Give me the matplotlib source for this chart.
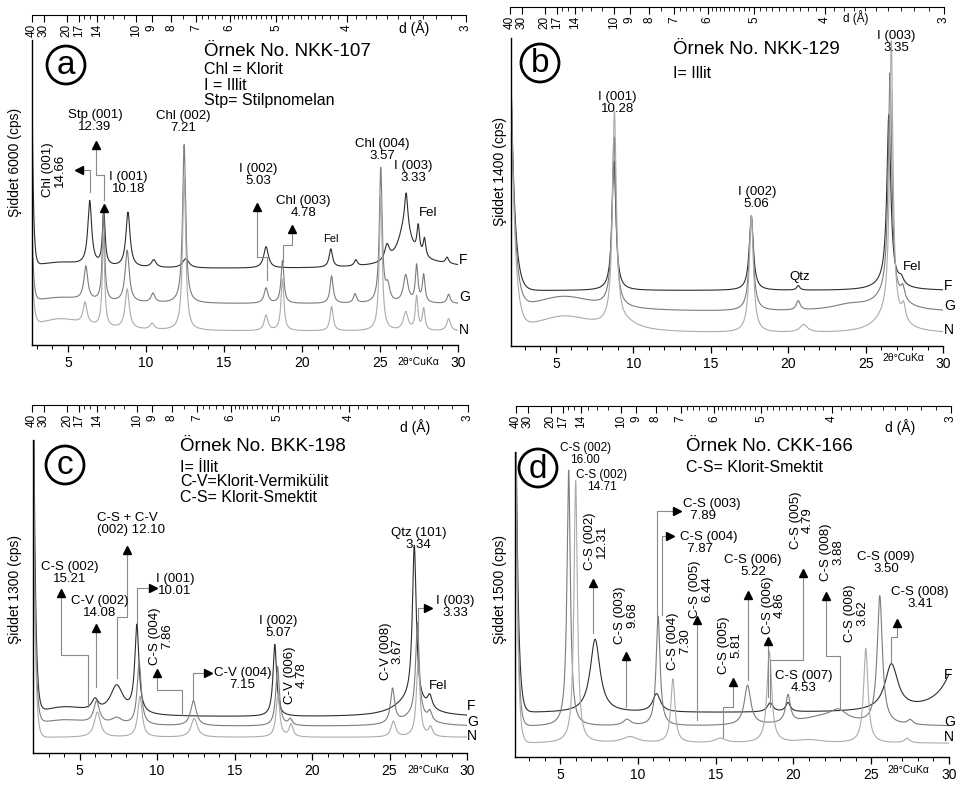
import numpy as np
import matplotlib.pyplot as plt
from matplotlib.patches import Ellipse

plt.rcParams['font.family'] = ['Liberation Sans', 'DejaVu Sans']

W, H = 956, 789
LAMBDA = 1.5406  # CuKa, used only to place the d(A) scale

# ---------------- data ----------------
# each trace: flat background, low-angle rise (amplitude, decay), peaks (2theta, height, half width)
samples = ['F', 'G', 'N']
colors = ['#2e2e2e', '#7c7c7c', '#ababab']

# (a) NKK-107
a_base = [25.0, 13.5, 4.5]
a_rise = [(60, 0.09), (25, 0.1), (22, 0.12)]
a_F_peaks = [(4.5, 2, 2.0), (6.40, 21, 0.15), (7.30, 18, 0.1), (8.85, 18, 0.16), (10.5, 2.5, 0.18),
             (12.55, 3, 0.25), (17.70, 7, 0.18), (21.85, 6, 0.13), (23.45, 2, 0.12), (25.45, 5, 0.18),
             (26.6, 12, 0.5), (26.68, 11, 0.12), (27.45, 9, 0.1), (27.85, 6, 0.1), (29.3, 2, 0.12),
             (27.5, 2, 2.5)]
a_G_peaks = [(4.5, 2, 2.0), (6.15, 11, 0.15), (7.28, 30, 0.09), (8.8, 17, 0.16), (10.45, 3, 0.15),
             (12.45, 52, 0.12), (17.7, 5, 0.15), (18.75, 14, 0.11), (21.9, 9, 0.12), (23.4, 3, 0.12),
             (25.05, 44, 0.11), (25.5, 5, 0.15), (26.65, 9, 0.18), (27.35, 12, 0.1), (27.8, 9, 0.1),
             (29.4, 3, 0.12)]
a_N_peaks = [(4.5, 4, 2.0), (6.1, 7, 0.15), (7.28, 30, 0.09), (8.8, 13, 0.16), (10.4, 2, 0.15),
             (12.45, 50, 0.12), (17.7, 5, 0.15), (18.75, 17, 0.11), (21.9, 8, 0.12), (25.05, 44, 0.11),
             (26.65, 6, 0.18), (27.35, 11, 0.1), (27.8, 7, 0.1), (29.4, 4, 0.15)]

# (b) NKK-129
b_base = [18.0, 11.0, 4.0]
b_rise = [(70, 0.25), (76, 0.25), (83, 0.25)]
b_F_peaks = [(8.75, 42, 0.15), (17.62, 24, 0.16), (20.65, 1.5, 0.12), (26.5, 54, 0.15),
             (26.5, 3, 0.8), (27.3, 2, 0.18)]
b_G_peaks = [(5.5, 5, 2.5), (8.75, 55, 0.15), (17.62, 31, 0.16), (20.65, 3, 0.15), (24.0, 2, 1.5),
             (26.58, 72, 0.14), (26.5, 5, 1.0), (27.4, 4, 0.15)]
b_N_peaks = [(5.5, 5.5, 2.5), (8.78, 69, 0.15), (9.5, 2, 1.0), (17.62, 38, 0.16), (21.0, 2.5, 0.3),
             (26.66, 89, 0.13), (26.5, 6, 1.0), (27.45, 5, 0.15)]

# (c) BKK-198
c_base = [11.5, 8.5, 5.0]
c_rise = [(150, 0.12), (120, 0.12), (110, 0.12)]
c_F_peaks = [(4.0, 3, 2.0), (6.0, 3.5, 0.25), (7.4, 9, 0.5), (8.7, 28, 0.16), (17.6, 23, 0.14),
             (26.6, 50, 0.15), (26.3, 5, 1.2), (27.6, 4, 0.18)]
c_G_peaks = [(4.0, 2, 2.0), (6.1, 7, 0.22), (7.4, 2, 0.4), (8.85, 20, 0.16), (12.35, 8, 0.22),
             (17.78, 19, 0.14), (18.6, 2, 0.15), (25.2, 11, 0.16), (26.8, 30, 0.14),
             (26.6, 3, 1.0), (27.6, 3, 0.15)]
c_N_peaks = [(6.15, 8, 0.24), (8.9, 13, 0.17), (12.4, 6, 0.24), (17.8, 14, 0.14), (18.65, 4, 0.15),
             (25.25, 5, 0.18), (26.85, 24, 0.14), (27.65, 3, 0.15)]

# (d) CKK-166
d_base = [14.5, 10.0, 4.5]
d_rise = [(150, 0.15), (150, 0.13), (150, 0.13)]
d_F_peaks = [(7.25, 24, 0.38), (11.2, 6, 0.3), (18.5, 3, 0.22), (19.65, 3, 0.18), (26.3, 15, 0.5),
             (31.0, 25, 1.0)]
d_G_peaks = [(5.55, 84, 0.13), (9.3, 2, 0.3), (11.3, 36, 0.15), (17.05, 13, 0.25), (19.65, 9, 0.18),
             (22.0, 3, 2.0), (22.9, 3, 0.6), (25.55, 42, 0.2), (27.5, 1.5, 0.2)]
d_N_peaks = [(6.0, 86, 0.13), (9.5, 2, 0.6), (12.25, 21, 0.16), (15.3, 1.5, 0.4), (18.45, 30, 0.18),
             (21.0, 1, 1.0), (24.65, 31, 0.17), (27.3, 1.5, 0.2)]

# top scale, d in Angstrom
d_major = [40, 30, 20, 17, 14, 10, 9, 8, 7, 6, 5, 4, 3]
d_minor = ([16, 15, 13, 12, 11, 7.5, 6.8, 6.6, 6.4, 6.2]
           + [5.9, 5.8, 5.7, 5.6, 5.5, 5.4, 5.3, 5.2, 5.1]
           + [4.9, 4.8, 4.7, 4.6, 4.5, 4.4, 4.3, 4.2, 4.1]
           + [3.9, 3.8, 3.7, 3.6, 3.5, 3.4, 3.3, 3.2, 3.1])

# ---------------- helpers ----------------
def two_theta(d):
    return 2 * np.degrees(np.arcsin(LAMBDA / (2 * np.asarray(d, dtype=float))))


def box(x0, y0, x1, y1):
    return [x0 / W, 1 - y1 / H, (x1 - x0) / W, (y1 - y0) / H]


def ftext(px, py, s, **kw):
    fig.text(px / W, 1 - py / H, s, **kw)


def pattern(tt, base, rise, peaks):
    y = np.full_like(tt, base)
    y += rise[0] * np.exp(-(tt - tt[0]) / rise[1])
    for pos, h, w in peaks:
        y += h / (1 + ((tt - pos) / w) ** 2)
    return y


def d_axis(x0, x1, py):
    ax = fig.add_axes(box(x0, py - 1, x1, py))
    ax.set_xlim(two_theta(40), two_theta(3))
    for s in ['top', 'left', 'right']:
        ax.spines[s].set_visible(False)
    ax.spines['bottom'].set_linewidth(0.8)
    ax.set_yticks([])
    ax.set_xticks(two_theta(d_major))
    ax.set_xticklabels([str(v) for v in d_major], rotation=90, fontsize=8.5)
    ax.set_xticks(two_theta(d_minor), minor=True)
    ax.tick_params(axis='x', which='major', length=5, width=0.8, pad=1.5)
    ax.tick_params(axis='x', which='minor', length=3, width=0.6)
    ax.patch.set_visible(False)
    return ax


def main_axes(x0, y0, x1, y1, xmin, base, rise, peaks):
    ax = fig.add_axes(box(x0, y0, x1, y1))
    ax.set_xlim(xmin, 30)
    ax.set_ylim(0, 100)
    ax.spines['top'].set_visible(False)
    ax.spines['right'].set_visible(False)
    ax.spines['left'].set_linewidth(1.0)
    ax.spines['bottom'].set_linewidth(1.0)
    ax.set_yticks([])
    ax.set_xticks(range(5, 31, 5))
    ax.set_xticks(range(3, 30), minor=True)
    ax.tick_params(axis='x', which='major', length=5, width=0.9, labelsize=10, pad=3)
    ax.tick_params(axis='x', which='minor', length=3, width=0.7)
    ax.patch.set_visible(False)
    tt = np.linspace(xmin, 30, 4000)
    for b, r, p, c in zip(base, rise, peaks, colors):
        ax.plot(tt, pattern(tt, b, r, p), color=c, lw=0.8)
    return ax


def label(ax, x, y, s, rot=0, size=9.5, ha='center'):
    ax.text(x, y, s, rotation=rot, ha=ha, va='center', fontsize=size,
            linespacing=1.0, multialignment='center' if ha == 'center' else 'left')


def leader(ax, xs, ys, head):
    ax.plot(xs, ys, color='#8a8a8a', lw=0.8, clip_on=False)
    ax.plot(xs[-1], ys[-1], marker=head, color='black', ms=5.5, clip_on=False, lw=0)


def panel_frame(letter, cx, cy, title, subs, tx, ty, ylab, ylx, yly, dpx, dpy, dsize,
                cux, cuy, fgn):
    fig.add_artist(Ellipse((cx / W, 1 - cy / H), 38 / W, 38 / H, fill=False, lw=2, ec='black'))
    ftext(cx, cy + 1, letter, ha='center', va='center', fontsize=24)
    ftext(tx, ty, title, ha='left', va='center', fontsize=13.5)
    for s, sy in subs:
        ftext(tx, sy, s, ha='left', va='center', fontsize=11.5)
    ftext(ylx, yly, ylab, ha='center', va='center', rotation=90, fontsize=10)
    ftext(dpx, dpy, 'd (Å)', ha='center', va='center', fontsize=dsize)
    ftext(cux, cuy, '2θ°CuKα', ha='center', va='center', fontsize=7.5)
    for s, (fx, fy) in zip(samples, fgn):
        ftext(fx, fy, s, ha='left', va='center', fontsize=10)


fig = plt.figure(figsize=(W / 100, H / 100), dpi=100)

# ---------------- (a) ----------------
d_axis(32, 466, 15)
ax = main_axes(32, 40, 458, 345, 2.7, a_base, a_rise, [a_F_peaks, a_G_peaks, a_N_peaks])
label(ax, 6.74, 73.4, 'Stp (001)\n12.39')
label(ax, 4.11, 57.4, 'Chl (001)\n14.66', rot=90)
label(ax, 8.87, 53.0, 'I (001)\n10.18')
label(ax, 12.37, 73.0, 'Chl (002)\n7.21')
label(ax, 17.2, 55.7, 'I (002)\n5.03')
label(ax, 20.09, 45.2, 'Chl (003)\n4.78')
label(ax, 21.86, 34.6, 'Fel', size=8)
label(ax, 25.17, 64.0, 'Chl (004)\n3.57')
label(ax, 27.13, 56.6, 'I (003)\n3.33')
label(ax, 28.06, 43.2, 'Fel')
leader(ax, [6.42, 6.42, 5.70], [50.2, 57.4, 57.4], '<')
leader(ax, [7.31, 7.31, 6.80, 6.80], [47.5, 55.7, 55.7, 65.6], '^')
ax.plot(7.31, 44.8, marker='^', color='black', ms=5.5, clip_on=False)
leader(ax, [17.74, 17.74, 17.14, 17.14], [21.3, 28.9, 28.9, 45.2], '^')
leader(ax, [18.80, 18.80, 19.38, 19.38], [27.2, 32.8, 32.8, 38.0], '^')
panel_frame('a', 66, 65, 'Örnek No. NKK-107',
            [('Chl = Klorit', 69), ('I = Illit', 85), ('Stp= Stilpnomelan', 100)], 204, 52,
            'Şiddet 6000 (cps)', 15, 162, 414, 28, 10, 418, 362,
            [(459, 260), (459, 297), (459, 330)])

# ---------------- (b) ----------------
d_axis(510, 944, 7)
ax = main_axes(511, 38, 943, 346, 2.1, b_base, b_rise, [b_F_peaks, b_G_peaks, b_N_peaks])
label(ax, 8.97, 79.0, 'I (001)\n10.28')
label(ax, 17.97, 48.2, 'I (002)\n5.06')
label(ax, 26.98, 98.8, 'I (003)\n3.35')
label(ax, 20.74, 22.5, 'Qtz')
label(ax, 28.0, 25.7, 'Fel')
panel_frame('b', 540, 63, 'Örnek No. NKK-129', [('I= Illit', 74)], 673, 50,
            'Şiddet 1400 (cps)', 500, 171, 856, 18, 8.5, 903, 358,
            [(944, 286), (944, 306), (944, 330)])

# ---------------- (c) ----------------
d_axis(32, 468, 405)
ax = main_axes(33, 440, 467, 753, 2.0, c_base, c_rise, [c_F_peaks, c_G_peaks, c_N_peaks])
label(ax, 6.1, 73.2, 'C-S + C-V\n(002) 12.10', ha='left')
label(ax, 4.34, 57.5, 'C-S (002)\n15.21')
label(ax, 6.32, 46.6, 'C-V (002)\n14.08')
label(ax, 11.16, 53.7, 'I (001)\n10.01')
label(ax, 10.26, 37.4, 'C-S (004)\n7.86', rot=90)
label(ax, 15.5, 23.6, 'C-V (004)\n7.15')
label(ax, 17.83, 40.3, 'I (002)\n5.07')
label(ax, 18.97, 25.0, 'C-V (006)\n4.78', rot=90)
label(ax, 25.13, 32.6, 'C-V (008)\n3.67', rot=90)
label(ax, 26.86, 68.4, 'Qtz (101)\n3.34')
label(ax, 29.23, 46.6, 'I (003)\n3.33')
label(ax, 28.15, 21.5, 'Fel')
leader(ax, [7.40, 7.40, 8.05, 8.05], [24.0, 43.5, 43.5, 65.0], '^')
leader(ax, [5.57, 5.57, 3.79, 3.79], [14.8, 31.3, 31.3, 51.0], '^')
leader(ax, [6.06, 6.06], [21.2, 40.0], '^')
leader(ax, [8.73, 8.73, 9.76], [41.4, 52.6, 52.6], '>')
leader(ax, [11.59, 11.59, 9.98, 9.98], [12.1, 20.1, 20.1, 25.5], '^')
leader(ax, [12.34, 12.34, 13.3], [16.9, 25.5, 25.5], '>')
leader(ax, [26.86, 26.86, 27.49], [27.8, 46.3, 46.3], '>')
panel_frame('c', 65, 465, 'Örnek No. BKK-198',
            [('I= İllit', 467), ('C-V=Klorit-Vermikülit', 482), ('C-S= Klorit-Smektit', 498)],
            180, 447, 'Şiddet 1300 (cps)', 15, 590, 415, 427, 10, 428, 770,
            [(467, 706), (467, 722), (467, 736)])

# ---------------- (d) ----------------
d_axis(516, 951, 406)
ax = main_axes(515, 452, 949, 757, 2.1, d_base, d_rise, [d_F_peaks, d_G_peaks, d_N_peaks])
label(ax, 6.62, 99.3, 'C-S (002)\n16.00', size=8.5)
label(ax, 7.69, 90.5, 'C-S (002)\n14.71', size=8.5)
label(ax, 7.32, 70.8, 'C-S (002)\n12.31', rot=90)
label(ax, 9.25, 46.6, 'C-S (003)\n9.68', rot=90)
label(ax, 12.92, 81.0, 'C-S (003)\n  7.89', ha='left')
label(ax, 12.73, 70.2, 'C-S (004)\n  7.87', ha='left')
label(ax, 12.66, 38.0, 'C-S (004)\n7.30', rot=90)
label(ax, 14.07, 55.0, 'C-S (005)\n6.44', rot=90)
label(ax, 15.93, 36.7, 'C-S (005)\n5.81', rot=90)
label(ax, 17.39, 62.6, 'C-S (006)\n5.22')
label(ax, 18.76, 49.8, 'C-S (006)\n4.86', rot=90)
label(ax, 20.54, 77.7, 'C-S (005)\n4.79', rot=90)
label(ax, 22.48, 67.2, 'C-S (008)\n3.88', rot=90)
label(ax, 20.64, 24.7, 'C-S (007)\n4.53')
label(ax, 24.02, 47.2, 'C-S (008)\n3.62', rot=90)
label(ax, 25.95, 63.6, 'C-S (009)\n3.50')
label(ax, 28.14, 52.1, 'C-S (008)\n3.41')
leader(ax, [7.11, 7.11], [40.6, 57.0], '^')
leader(ax, [9.25, 9.25], [16.5, 33.0], '^')
leader(ax, [11.22, 11.22, 12.5], [44.9, 80.8, 80.8], '>')
leader(ax, [11.54, 11.54, 12.08], [46.6, 72.6, 72.6], '>')
leader(ax, [13.83, 13.83], [12.1, 45.0], '^')
leader(ax, [15.44, 15.44, 16.14, 16.14], [6.7, 16.5, 16.5, 24.5], '^')
leader(ax, [17.11, 17.11], [25.2, 53.2], '^')
leader(ax, [18.39, 18.39], [19.8, 38.0], '^')
leader(ax, [18.5, 18.5, 20.64, 20.64], [16.5, 31.8, 31.8, 60.3], '^')
leader(ax, [23.0, 23.0, 22.1, 22.1], [15.4, 33.1, 33.1, 52.7], '^')
leader(ax, [26.25, 26.25, 26.68, 26.68], [31.3, 39.5, 39.5, 43.9], '^')
panel_frame('d', 538, 468, 'Örnek No. CKK-166', [('C-S= Klorit-Smektit', 468)], 686, 447,
            'Şiddet 1500 (cps)', 500, 590, 900, 427, 10, 908, 770,
            [(944, 675), (944, 722), (944, 737)])

fig.savefig('out.png', dpi=100)
